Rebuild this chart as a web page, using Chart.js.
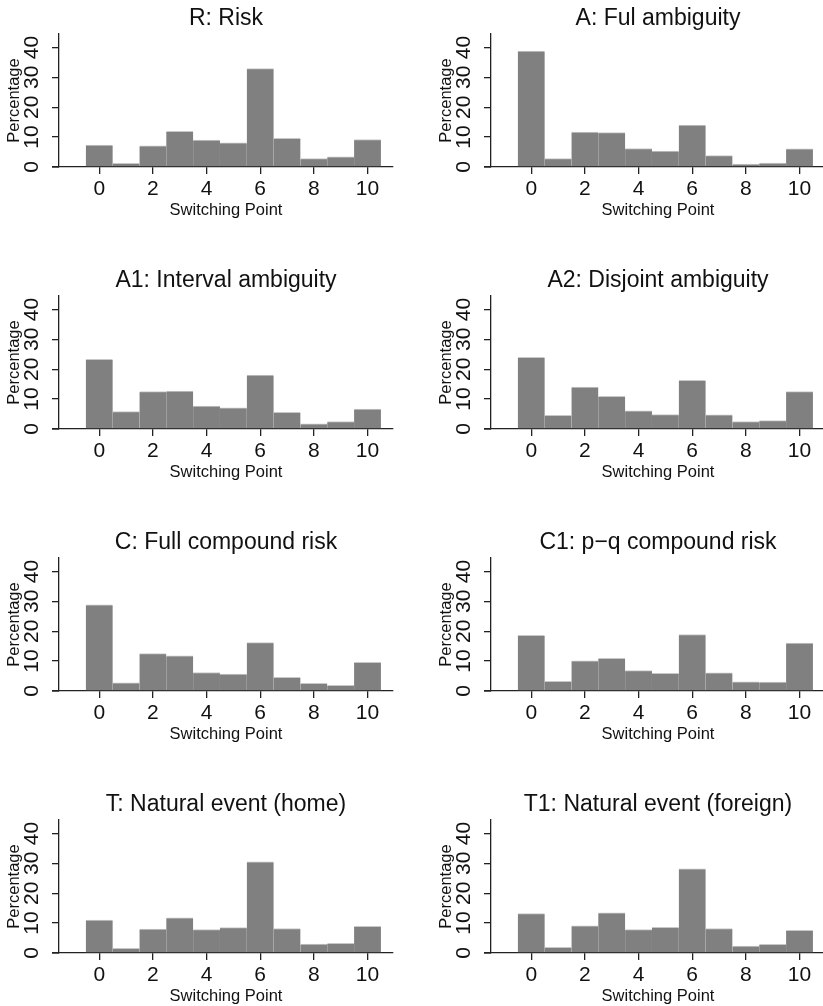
<!DOCTYPE html>
<html>
<head>
<meta charset="utf-8">
<title>Switching point histograms</title>
<script src="https://cdn.jsdelivr.net/npm/chart.js@4.4.1/dist/chart.umd.min.js"></script>
<style>
    html, body { margin: 0; padding: 0; background: #fff; width: 823px; height: 1006px; overflow: hidden; }
    .panel { position: absolute; width: 411px; height: 262px; }
    .panel canvas { display: block; }
</style>
</head>
<body>
<div id="grid"></div>
<script>
// switching points 0..10, percentage of subjects per point
const switchPoints = [0, 1, 2, 3, 4, 5, 6, 7, 8, 9, 10];
const xTickValues = [0, 2, 4, 6, 8, 10];
const yTickValues = [0, 10, 20, 30, 40];

const panelTitles = [
    'R: Risk', 'A: Ful ambiguity',
    'A1: Interval ambiguity', 'A2: Disjoint ambiguity',
    'C: Full compound risk', 'C1: p\u2212q compound risk',
    'T: Natural event (home)', 'T1: Natural event (foreign)'
];

const riskPct       = [7.3, 1.2, 7.1, 11.9, 9.0, 8.1, 32.9, 9.6, 2.8, 3.4, 9.2];
const fullAmbPct    = [38.8, 2.8, 11.7, 11.5, 6.2, 5.3, 14.0, 3.8, 1.0, 1.3, 6.1];
const intervalPct   = [23.3, 5.8, 12.5, 12.7, 7.7, 7.1, 18.0, 5.6, 1.7, 2.5, 6.7];
const disjointPct   = [24.0, 4.6, 14.0, 10.9, 6.1, 4.8, 16.3, 4.7, 2.5, 2.8, 12.5];
const compoundPct   = [28.8, 2.7, 12.5, 11.8, 6.2, 5.7, 16.2, 4.6, 2.6, 1.9, 9.6];
const pqCompoundPct = [18.6, 3.2, 10.1, 10.9, 6.8, 5.9, 18.9, 6.1, 3.1, 3.0, 16.0];
const homeEventPct  = [11.0, 1.6, 8.0, 11.8, 7.8, 8.5, 30.5, 8.2, 3.0, 3.2, 8.9];
const foreignPct    = [13.2, 1.9, 9.1, 13.4, 7.8, 8.6, 28.2, 8.2, 2.3, 2.9, 7.6];

const panelSeries = [riskPct, fullAmbPct, intervalPct, disjointPct,
                     compoundPct, pqCompoundPct, homeEventPct, foreignPct];

Chart.defaults.font.family = '"Liberation Sans", Arial, Helvetica, sans-serif';
Chart.defaults.color = '#111';

const axisColor = '#222';

// Stata lets the x axis run a little past the y axis on the left,
// and centres the title over the plot region rather than the canvas
const stataLook = {
    id: 'stataLook',
    afterLayout(chart) {
        const t = chart.titleBlock;
        if (t) {
            t.left = chart.chartArea.left;
            t.right = chart.chartArea.right;
        }
    },
    afterDraw(chart) {
        const {ctx, chartArea} = chart;
        ctx.save();
        ctx.strokeStyle = axisColor;
        ctx.lineWidth = 1.3;
        ctx.beginPath();
        ctx.moveTo(chartArea.left - 7, chartArea.bottom);
        ctx.lineTo(chartArea.left, chartArea.bottom);
        ctx.stroke();
        ctx.restore();
    }
};

function makePanel(idx) {
    const col = idx % 2;
    const row = Math.floor(idx / 2);
    const div = document.createElement('div');
    div.className = 'panel';
    div.style.left = (col * 432) + 'px';
    div.style.top = (row * 262) + 'px';
    const canvas = document.createElement('canvas');
    canvas.width = 411;
    canvas.height = 262;
    div.appendChild(canvas);
    document.getElementById('grid').appendChild(div);

    const values = panelSeries[idx];

    new Chart(canvas.getContext('2d'), {
        type: 'bar',
        data: {
            datasets: [{
                data: switchPoints.map((x, i) => ({x: x, y: values[i]})),
                backgroundColor: '#808080',
                borderColor: '#c8c8c8',
                borderWidth: {top: 1, left: 0, right: 0, bottom: 0},
                barPercentage: 1.0,
                categoryPercentage: 1.0
            }]
        },
        options: {
            responsive: false,
            animation: false,
            events: [],
            layout: { padding: {left: 0, right: 18, top: 0, bottom: 0} },
            plugins: {
                legend: { display: false },
                tooltip: { enabled: false },
                title: {
                    display: true,
                    text: panelTitles[idx],
                    color: '#111',
                    font: { size: 23, weight: 'normal', lineHeight: 1.2 },
                    padding: { top: 4.5, bottom: 1.9 }
                }
            },
            scales: {
                x: {
                    type: 'linear',
                    min: -1.5,
                    max: 10.95,
                    offset: false,
                    afterBuildTicks: (scale) => {
                        scale.ticks = xTickValues.map(v => ({value: v}));
                    },
                    afterFit: (scale) => { scale.height = 95; },
                    ticks: {
                        font: { size: 21 },
                        color: '#111',
                        padding: 3,
                        maxRotation: 0,
                        autoSkip: false
                    },
                    grid: {
                        offset: false,
                        drawOnChartArea: false,
                        drawTicks: true,
                        tickLength: 7,
                        color: axisColor,
                        lineWidth: 1.3
                    },
                    border: { display: true, color: axisColor, width: 1.3 },
                    title: {
                        display: true,
                        text: 'Switching Point',
                        color: '#111',
                        font: { size: 16.5 },
                        padding: { top: 0, bottom: 42 }
                    }
                },
                y: {
                    min: 0,
                    max: 44.5,
                    afterBuildTicks: (scale) => {
                        scale.ticks = yTickValues.map(v => ({value: v}));
                    },
                    afterFit: (scale) => { scale.width = 59; },
                    ticks: {
                        font: { size: 21 },
                        color: '#111',
                        padding: 8,
                        minRotation: 90,
                        maxRotation: 90,
                        crossAlign: 'center',
                        autoSkip: false
                    },
                    grid: {
                        drawOnChartArea: false,
                        drawTicks: true,
                        tickLength: 7,
                        color: axisColor,
                        lineWidth: 1.3
                    },
                    border: { display: true, color: axisColor, width: 1.3 },
                    title: {
                        display: true,
                        text: 'Percentage',
                        color: '#111',
                        font: { size: 16.5 },
                        padding: { top: 5, bottom: 0 }
                    }
                }
            }
        },
        plugins: [stataLook]
    });
}

for (let i = 0; i < panelTitles.length; i++) {
    makePanel(i);
}
</script>
</body>
</html>
